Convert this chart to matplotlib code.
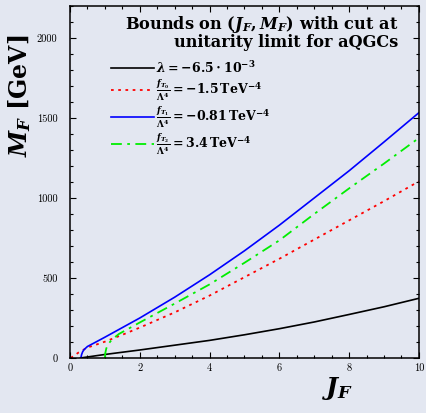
import numpy as np
import matplotlib
matplotlib.use('Agg')
import matplotlib.pyplot as plt
from matplotlib.ticker import MultipleLocator

# 폰트 설정 (수식은 전부 굵게)
plt.rcParams['mathtext.fontset'] = 'custom'
plt.rcParams['mathtext.rm'] = 'DejaVu Serif:bold'
plt.rcParams['mathtext.it'] = 'DejaVu Serif:italic:bold'
plt.rcParams['mathtext.bf'] = 'DejaVu Serif:bold'
plt.rcParams['font.family'] = 'serif'
plt.rcParams['font.serif'] = ['cmr10', 'DejaVu Serif']
plt.rcParams['axes.formatter.use_mathtext'] = False

bg = '#e3e7f1'

# 데이터
j_lam = [0.3, 1, 2, 3, 4, 5, 6, 7, 8, 9, 10]
m_lam = [0, 22, 50, 80, 110, 145, 183, 225, 272, 320, 373]

j_t0 = [0.02, 0.25, 0.5, 1, 1.5, 2, 3, 4, 5, 6, 7, 8, 9, 10]
m_t0 = [0, 35, 65, 102, 145, 190, 285, 390, 505, 620, 740, 860, 980, 1104]

j_t1 = [0.31, 0.33, 0.36, 0.4, 0.5, 0.7, 1, 1.5, 2, 3, 4, 5, 6, 7, 8, 9, 10]
m_t1 = [0, 20, 38, 52, 72, 95, 130, 190, 250, 380, 520, 670, 830, 1000, 1170, 1350, 1533]

j_t2 = [1.0, 1.01, 1.04, 1.1, 1.2, 1.4, 2, 3, 4, 5, 6, 7, 8, 9, 10]
m_t2 = [0, 30, 60, 88, 115, 150, 222, 340, 460, 595, 735, 900, 1060, 1215, 1375]

labels = [r'$\lambda = -6.5\cdot 10^{-3}$',
          r'$\frac{f_{T_0}}{\Lambda^4} = -1.5\,\mathrm{TeV}^{-4}$',
          r'$\frac{f_{T_1}}{\Lambda^4} = -0.81\,\mathrm{TeV}^{-4}$',
          r'$\frac{f_{T_2}}{\Lambda^4} = 3.4\,\mathrm{TeV}^{-4}$']

# 그림 생성
fig = plt.figure(figsize=(4.27, 4.13), dpi=100, facecolor=bg)
ax = fig.add_axes([0.164, 0.1332, 0.817, 0.8523], facecolor=bg)

ax.plot(j_lam, m_lam, color='black', lw=1.2, label=labels[0])
ax.plot(j_t0, m_t0, color='#ff0000', lw=1.3, ls=(0, (1.5, 2.5)), label=labels[1])
ax.plot(j_t1, m_t1, color='#0000ff', lw=1.2, label=labels[2])
ax.plot(j_t2, m_t2, color='#00ee00', lw=1.3, ls=(0, (6, 3, 1.5, 3)), label=labels[3])

ax.set_xlim(0, 10)
ax.set_ylim(0, 2200)
ax.xaxis.set_major_locator(MultipleLocator(2))
ax.xaxis.set_minor_locator(MultipleLocator(0.5))
ax.yaxis.set_major_locator(MultipleLocator(500))
ax.yaxis.set_minor_locator(MultipleLocator(100))
ax.tick_params(which='both', direction='in', top=True, right=True, width=0.8, labelsize=7.5)
ax.tick_params(which='major', length=4)
ax.tick_params(which='minor', length=2.5)
ax.tick_params(axis='x', pad=4)
ax.tick_params(axis='y', pad=9)
for s in ax.spines.values():
    s.set_linewidth(1.1)

# 범례
ax.text(0.94, 0.977, r'Bounds on $(J_F, M_F)$ with cut at' + '\n' + 'unitarity limit for aQGCs',
        transform=ax.transAxes, ha='right', va='top', fontsize=11.6, family='DejaVu Serif',
        weight='bold', linespacing=0.92, multialignment='right')
ax.legend(loc='upper left', bbox_to_anchor=(0.1, 0.865), frameon=False, fontsize=9,
          handlelength=3.4, handletextpad=0.15, labelspacing=0.12, borderpad=0)

# 축 라벨
fig.text(20 / 427, 1 - 96 / 413, r'$M_F\ \mathrm{[GeV]}$', rotation=90,
         ha='center', va='center', fontsize=17)
fig.text(338 / 427, 1 - 388 / 413, r'$J_F$', ha='center', va='center', fontsize=18)

fig.savefig('out.png', dpi=100, facecolor=bg)
